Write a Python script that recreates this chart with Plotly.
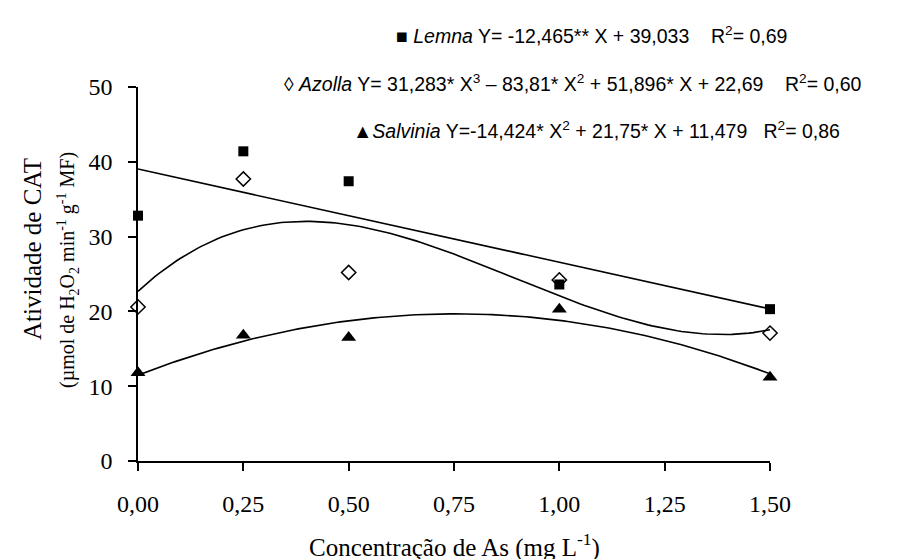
import numpy as np
import plotly.graph_objects as go

# Data
conc = [0.0, 0.25, 0.5, 1.0, 1.5]
lemna = [32.8, 41.4, 37.4, 23.6, 20.3]
azolla = [20.6, 37.7, 25.2, 24.2, 17.1]
salvinia = [11.8, 16.8, 16.5, 20.3, 11.2]

# Regression coefficients shown in the chart (highest power first)
lemna_coef = [-12.465, 39.033]
azolla_coef = [31.283, -83.81, 51.896, 22.69]
salvinia_coef = [-14.424, 21.75, 11.479]

x_tickvals = [0, 0.25, 0.5, 0.75, 1.0, 1.25, 1.5]
x_ticktext = ["0,00", "0,25", "0,50", "0,75", "1,00", "1,25", "1,50"]
y_tickvals = [0, 10, 20, 30, 40, 50]

xs = np.linspace(0, 1.5, 151)

fig = go.Figure()
line_style = dict(color="black", width=1.6)
for coef in (lemna_coef, azolla_coef, salvinia_coef):
    fig.add_trace(go.Scatter(x=xs, y=np.polyval(coef, xs), mode="lines",
                             line=line_style, hoverinfo="skip", showlegend=False))

fig.add_trace(go.Scatter(x=conc, y=lemna, mode="markers", name="Lemna",
                         marker=dict(symbol="square", size=10, color="black"),
                         showlegend=False, cliponaxis=False))
fig.add_trace(go.Scatter(x=conc, y=azolla, mode="markers", name="Azolla",
                         marker=dict(symbol="diamond-open", size=11, color="black",
                                     line=dict(width=1.5, color="black")),
                         showlegend=False, cliponaxis=False))
fig.add_trace(go.Scatter(x=conc, y=salvinia, mode="markers", name="Salvinia",
                         marker=dict(symbol="triangle-up", size=13, color="black"),
                         showlegend=False, cliponaxis=False))

L, R, T, B = 130, 762, 79, 453
W, H = 905, 559


def px(x):
    return (x - L) / (R - L)


def py(y):
    return (B - y) / (B - T)


ann_font = dict(family="Liberation Sans, Arial", size=19.5, color="black")
annotations = [
    dict(text="■ <i>Lemna</i> Y= -12,465** X + 39,033    R<sup>2</sup>= 0,69",
         x=px(583), y=py(27)),
    dict(text="◊ <i>Azolla</i> Y= 31,283* X<sup>3</sup> – 83,81* X<sup>2</sup> + 51,896* X + 22,69    R<sup>2</sup>= 0,60",
         x=px(565), y=py(75)),
    dict(text="▲<i>Salvinia</i> Y=-14,424* X<sup>2</sup> + 21,75* X + 11,479   R<sup>2</sup>= 0,86",
         x=px(588), y=py(122)),
]
for a in annotations:
    a.update(xref="paper", yref="paper", showarrow=False, font=ann_font,
             xanchor="center", yanchor="middle")

serif = "Liberation Serif, Times New Roman"
annotations += [
    dict(text="Atividade de CAT", x=px(25), y=py(241), xref="paper", yref="paper",
         showarrow=False, textangle=-90, xanchor="center", yanchor="middle",
         font=dict(family=serif, size=25, color="black")),
    dict(text="(µmol de H<sub>2</sub>O<sub>2</sub> min<sup>-1</sup> g<sup>-1</sup> MF)",
         x=px(60), y=py(262), xref="paper", yref="paper",
         showarrow=False, textangle=-90, xanchor="center", yanchor="middle",
         font=dict(family=serif, size=20, color="black")),
    dict(text="Concentração de As (mg L<sup>-1</sup>)", x=px(446), y=py(537),
         xref="paper", yref="paper", showarrow=False, xanchor="center",
         yanchor="middle", font=dict(family=serif, size=25, color="black")),
]

fig.update_layout(
    width=W, height=H, autosize=False,
    margin=dict(l=L, r=W - R, t=T, b=H - B, pad=0),
    plot_bgcolor="white", paper_bgcolor="white",
    annotations=annotations,
    showlegend=False,
)
fig.update_xaxes(range=[0, 1.5], tickvals=x_tickvals, ticktext=x_ticktext,
                 showgrid=False, zeroline=False, showline=True, linecolor="black",
                 linewidth=1.5, ticks="outside", ticklen=8, tickwidth=1.5,
                 tickcolor="black", ticklabelstandoff=12,
                 tickfont=dict(family=serif, size=24, color="black"))
fig.update_yaxes(range=[0, 50], tickvals=y_tickvals,
                 showgrid=False, zeroline=False, showline=True, linecolor="black",
                 linewidth=1.5, ticks="outside", ticklen=8, tickwidth=1.5,
                 tickcolor="black", ticklabelstandoff=11,
                 tickfont=dict(family=serif, size=24, color="black"))

fig.write_html("out.html")
